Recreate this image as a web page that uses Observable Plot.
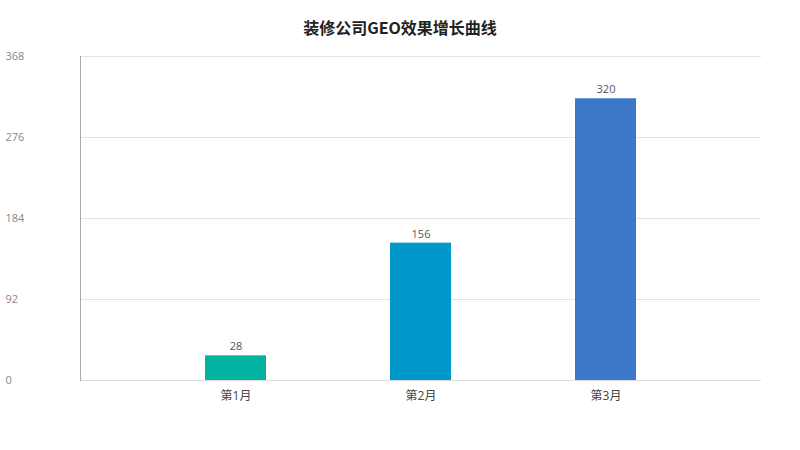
<!DOCTYPE html>
<html>
<head>
<meta charset="utf-8">
<script src="https://cdn.jsdelivr.net/npm/d3@7"></script>
<script src="https://cdn.jsdelivr.net/npm/@observablehq/plot@0.6"></script>
<style>
  body { margin: 0; background: #fff; font-family: "Open Sans", "Noto Sans CJK SC", sans-serif; }
  #title { height: 46px; box-sizing: border-box; padding-top: 16px; line-height: 22px; text-align: center;
           font-size: 16px; font-weight: bold; color: #222; font-family: "Noto Sans CJK SC", sans-serif; }
</style>
</head>
<body>
<div id="title">装修公司GEO效果增长曲线</div>
<div id="chart"></div>
<script>
const months = ["第1月", "第2月", "第3月"];
const values = [28, 156, 320];
const colors = ["#00b4a0", "#0098ca", "#3b78c8"];
const yTicks = [0, 92, 184, 276, 368];

const data = months.map((m, i) => ({month: m, value: values[i], color: colors[i]}));

const chart = Plot.plot({
  width: 800,
  height: 404,
  marginLeft: 80,
  marginRight: 39,
  marginTop: 10,
  marginBottom: 70,
  style: {fontFamily: "'Open Sans', 'Noto Sans CJK SC', sans-serif", background: "#fff"},
  x: {domain: months, paddingInner: 0.67, paddingOuter: 0.675, label: null},
  y: {domain: [0, 368], label: null, axis: null},
  marks: [
    Plot.gridY(yTicks, {stroke: "#e3e3e3", strokeOpacity: 1}),
    Plot.ruleY([0], {stroke: "#dddddd"}),
    Plot.frame({anchor: "left", stroke: "#aaaaaa"}),
    Plot.barY(data, {x: "month", y: "value", fill: "color"}),
    Plot.text(data, {x: "month", y: "value", text: d => String(d.value), dy: -9, fill: "#555", fontSize: 11}),
    Plot.axisX({tickSize: 0, tickPadding: 11, fontSize: 12, fill: "#444", label: null}),
    Plot.text(yTicks, {y: d => d, text: d => String(d), frameAnchor: "left", textAnchor: "start", dx: -75, fontSize: 11, fill: "#888"})
  ]
});
document.getElementById("chart").appendChild(chart);
</script>
</body>
</html>
